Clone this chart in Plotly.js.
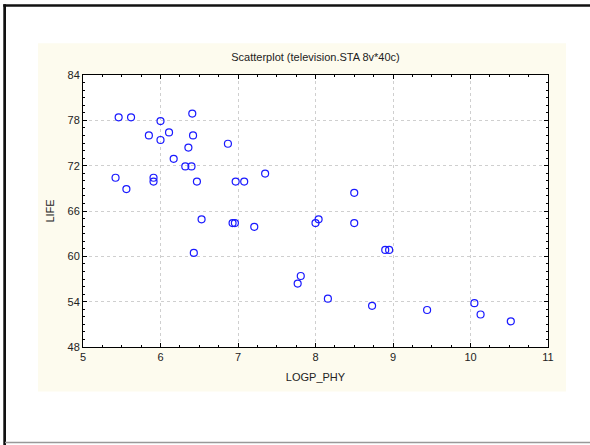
<!DOCTYPE html>
<html>
<head>
<meta charset="utf-8">
<script src="https://cdn.plot.ly/plotly-3.0.1.min.js"></script>
<style>html,body{margin:0;padding:0;background:#fff;}#chart{width:590px;height:445px;}</style>
</head>
<body>
<div id="chart"></div>
<script>
const logpPhy = [5.46,5.62,6.00,6.41,5.85,6.11,6.42,6.00,6.87,6.36,6.17,6.32,6.40,5.42,5.91,5.91,6.47,5.56,6.53,6.43,
                 6.97,7.08,7.35,6.93,6.96,7.21,8.50,8.00,8.04,8.50,8.90,8.95,7.81,7.77,8.16,8.73,9.44,10.05,10.13,10.52];
const life = [78.4,78.4,77.9,78.9,76.0,76.4,76.0,75.4,74.9,74.4,72.9,71.9,71.9,70.4,70.4,69.9,69.9,68.9,64.9,60.45,
              69.9,69.9,70.95,64.4,64.4,63.9,68.4,64.4,64.9,64.4,60.85,60.85,57.4,56.4,54.4,53.45,52.9,53.8,52.3,51.4];
const xTicks = [5,6,7,8,9,10,11];
const yTicks = [48,54,60,66,72,78,84];

const L = 83, R = 42, T = 75, B = 98, W = 590, H = 445;
const pw = W - L - R, ph = H - T - B;
const px = v => (v - L) / pw;
const py = v => (H - B - v) / ph;

const font = 'Liberation Sans, Arial, sans-serif';
const axisCommon = {
  showline: true, linecolor: '#000', linewidth: 1, mirror: 'ticks',
  ticks: 'inside', ticklen: 4, tickcolor: '#000', tickwidth: 1,
  showgrid: true, gridcolor: '#cfcfcf', griddash: 'dot', gridwidth: 1,
  zeroline: false, tickfont: {family: font, size: 11, color: '#222'}
};

const trace = {
  x: logpPhy, y: life, type: 'scatter', mode: 'markers',
  marker: {symbol: 'circle-open', size: 7, color: '#1a1aff', line: {width: 1.2, color: '#1a1aff'}},
  hoverinfo: 'x+y'
};

const layout = {
  width: W, height: H,
  margin: {l: L, r: R, t: T, b: B, pad: 0},
  paper_bgcolor: '#fff', plot_bgcolor: '#fff',
  showlegend: false,
  font: {family: font, size: 11, color: '#222'},
  title: {text: 'Scatterplot (television.STA 8v*40c)', font: {family: font, size: 11, color: '#222'},
          x: 0.5, xref: 'paper', xanchor: 'center', y: 1 - 57 / H, yref: 'container', yanchor: 'middle'},
  xaxis: Object.assign({}, axisCommon, {
    range: [5, 11], tickvals: xTicks, ticktext: xTicks.map(String),
    minor: {dtick: 0.25, ticklen: 2, ticks: 'inside', tickcolor: '#000', showgrid: false},
    title: {text: 'LOGP_PHY', font: {family: font, size: 11, color: '#222'}, standoff: 11}
  }),
  yaxis: Object.assign({}, axisCommon, {
    range: [48, 84], tickvals: yTicks, ticktext: yTicks.map(String),
    minor: {dtick: 1, ticklen: 2, ticks: 'inside', tickcolor: '#000', showgrid: false},
    title: {text: 'LIFE', font: {family: font, size: 11, color: '#222'}, standoff: 10}
  }),
  shapes: [
    {type: 'rect', xref: 'paper', yref: 'paper', layer: 'below',
     x0: px(38), x1: px(566), y0: py(391.5), y1: py(43.3), fillcolor: '#fdfbee', line: {width: 0}},
    {type: 'rect', xref: 'paper', yref: 'paper', layer: 'below',
     x0: 0, x1: 1, y0: 0, y1: 1, fillcolor: '#fff', line: {width: 0}},
    {type: 'rect', xref: 'paper', yref: 'paper', layer: 'above',
     x0: px(3.3), x1: px(6), y0: py(445), y1: py(4.3), fillcolor: '#111', line: {width: 0}},
    {type: 'rect', xref: 'paper', yref: 'paper', layer: 'above',
     x0: px(3.3), x1: px(590), y0: py(6.7), y1: py(4.3), fillcolor: '#111', line: {width: 0}},
    {type: 'line', xref: 'paper', yref: 'paper', layer: 'above',
     x0: px(5), x1: px(590), y0: py(442.5), y1: py(442.5), line: {color: '#999', width: 1.5}}
  ]
};

Plotly.newPlot('chart', [trace], layout, {displayModeBar: false, staticPlot: true});
</script>
</body>
</html>
